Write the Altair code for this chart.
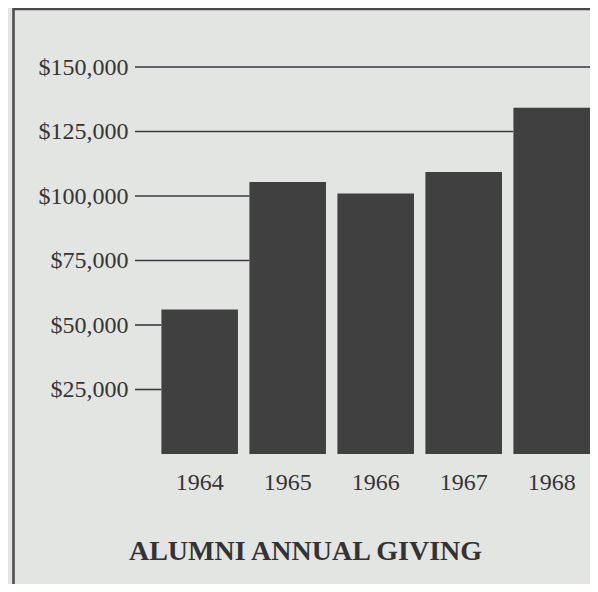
import altair as alt
import pandas as pd

years = ["1964", "1965", "1966", "1967", "1968"]
giving = [56000, 105400, 101000, 109300, 134200]
tick_values = [25000, 50000, 75000, 100000, 125000, 150000]
title_text = "ALUMNI ANNUAL GIVING"

df = pd.DataFrame({"year": years, "giving": giving})

# each guide line runs from the left until it meets the first bar that is taller
stops = []
for t in tick_values:
    stop = next((y for y, g in zip(years, giving) if g >= t), None)
    stops.append(stop)
grid_df = pd.DataFrame({"tick": tick_values, "stop": stops})
grid_part = grid_df[grid_df["stop"].notna()]
grid_full = grid_df[grid_df["stop"].isna()]

PANEL = "#e3e5e2"
INK = "#353535"
LINE = "#3d3644"
FONT = "Liberation Serif"

xscale = alt.Scale(domain=years, paddingInner=0.13, paddingOuter=0.15, align=1)
yscale = alt.Scale(domain=[0, 150000], nice=False)

x_axis = alt.Axis(title=title_text, domain=False, ticks=False, labelAngle=0,
                  labelFont=FONT, labelFontSize=24, labelColor=INK,
                  labelPadding=16,
                  titleFont=FONT, titleFontSize=28, titleFontWeight="bold",
                  titleColor="#333333", titleX=170, titleY=105,
                  titleAlign="center", titleBaseline="alphabetic")
y_axis = alt.Axis(title=None, values=tick_values, domain=False, ticks=False,
                  grid=False,
                  labelExpr="'$' + format(datum.value, ',')",
                  labelFont=FONT, labelFontSize=24, labelColor=INK,
                  labelPadding=7)

frame = alt.Chart(pd.DataFrame({"f": [0]})).mark_rect(
    filled=False, stroke="#4a4a4a", strokeWidth=2.5
).encode(
    x=alt.value(-121.5), x2=alt.value(700),
    y=alt.value(-58), y2=alt.value(700)
)

rules_part = alt.Chart(grid_part).mark_rule(color=LINE, strokeWidth=1.6).encode(
    x=alt.X("stop:N", scale=xscale, bandPosition=0, axis=x_axis),
    x2=alt.value(0),
    y=alt.Y("tick:Q", scale=yscale, axis=y_axis),
)
rules_full = alt.Chart(grid_full).mark_rule(color=LINE, strokeWidth=1.6).encode(
    y=alt.Y("tick:Q", scale=yscale, axis=y_axis),
)

bars = alt.Chart(df).mark_bar(color="#404040").encode(
    x=alt.X("year:N", sort=years, scale=xscale, axis=x_axis),
    y=alt.Y("giving:Q", scale=yscale, axis=y_axis),
)

chart = alt.layer(rules_part, rules_full, bars, frame).properties(
    width=455, height=387,
    autosize=alt.AutoSizeParams(type="none"),
    padding={"left": 127, "top": 59, "right": 0, "bottom": 130},
).configure(background=PANEL).configure_view(stroke=None)

chart.save("out.html", embed_options={"renderer": "svg", "actions": False})
